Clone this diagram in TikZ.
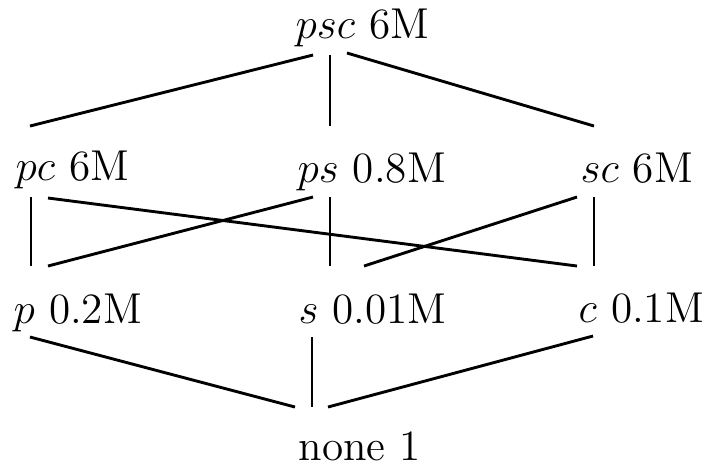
\documentclass[tikz,border=0pt]{standalone}
\usetikzlibrary{calc}
\tikzset{
  lbl/.style={anchor=base west, inner sep=0pt, font=\fontsize{12}{14}\selectfont},
  slant/.style={line width=0.8pt},
  vert/.style={line width=0.5pt}
}
\begin{document}
\begin{tikzpicture}[x=0.2778pt, y=-0.2778pt]
\useasboundingbox (0,0) rectangle (704,465);
% lattice levels
\node[lbl] (psc) at (295,38) {$psc$ 6M};

\node[lbl] (pc) at (15,180) {$pc$ 6M};
\node[lbl] (ps) at (297,182) {$ps$ 0.8M};
\node[lbl] (sc) at (580,182) {$sc$ 6M};

\node[lbl] (p) at (13,323) {$p$ 0.2M};
\node[lbl] (s) at (298,323) {$s$ 0.01M};
\node[lbl] (c) at (578,322) {$c$ 0.1M};

\node[lbl] (none) at (298,460) {none 1};

% top to middle
\draw[slant] ($(psc.base west)+(18,17)$) -- ($(pc.base west)+(15,-54)$);
\draw[vert]  ($(psc.base west)+(35,17)$) -- ($(ps.base west)+(33,-56)$);
\draw[slant] ($(psc.base west)+(52,15)$) -- ($(sc.base west)+(14,-56)$);

% middle to bottom
\draw[vert]  ($(pc.base west)+(16,17)$) -- ($(p.base west)+(18,-57)$);
\draw[slant] ($(pc.base west)+(33,18)$) -- ($(c.base west)+(-1,-56)$);
\draw[slant] ($(ps.base west)+(16,15)$) -- ($(p.base west)+(35,-57)$);
\draw[vert]  ($(ps.base west)+(33,15)$) -- ($(s.base west)+(32,-57)$);
\draw[slant] ($(sc.base west)+(-3,15)$) -- ($(s.base west)+(66,-57)$);
\draw[vert]  ($(sc.base west)+(14,15)$) -- ($(c.base west)+(16,-56)$);

% bottom to none
\draw[slant] ($(p.base west)+(17,14)$) -- ($(none.base west)+(-3,-53)$);
\draw[vert]  ($(s.base west)+(14,14)$) -- ($(none.base west)+(14,-53)$);
\draw[slant] ($(c.base west)+(15,14)$) -- ($(none.base west)+(30,-53)$);
\end{tikzpicture}
\end{document}
